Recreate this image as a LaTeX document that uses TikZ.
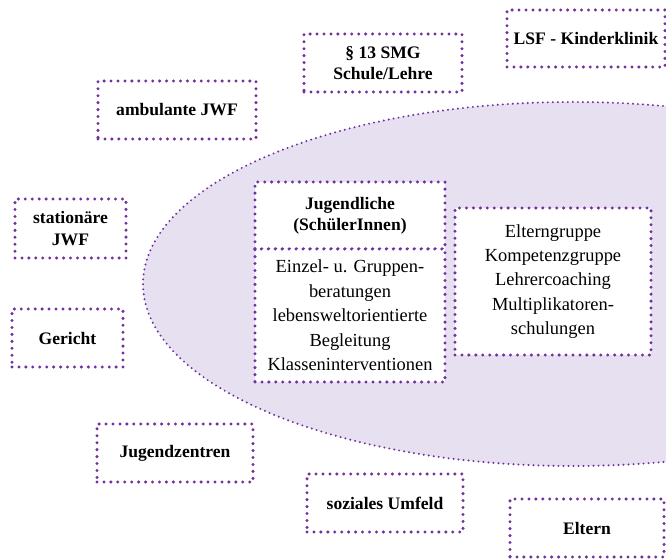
\documentclass[tikz,border=0pt]{standalone}
\usepackage{fontspec}
\setmainfont{Liberation Serif}
\usepackage{tikz}
\definecolor{lila}{RGB}{112,48,160}
\definecolor{flieder}{RGB}{230,224,240}
\tikzset{
	punkte/.style={draw=lila, line width=1.9pt, line cap=round, dash pattern=on 0pt off 3.95pt},
	partner/.style={punkte, align=center, inner sep=2pt, font=\bfseries},
	angebot/.style={punkte, fill=white, align=center, inner sep=2pt},
	kreis/.style={fill=flieder, draw=lila, line width=1.25pt, line cap=round, dash pattern=on 0pt off 2.85pt}
}

\begin{document}
\begin{tikzpicture}[font=\fontsize{10.5}{13.9}\selectfont]
			%%%%% START %%%%%
			
			\useasboundingbox (0, 0) rectangle (13.32, 11.18);
			
			\begin{scope}
				\clip (0, 0) rectangle (13.32, 11.18);
				\draw[kreis] (11.46, 5.5) ellipse [x radius=8.6, y radius=3.64];
			\end{scope}
			
			%%%%% Umfeld %%%%%
			
			\node[partner, minimum width=3.16cm, minimum height=1.14cm] (lsf) at (11.72, 10.41) {LSF - Kinderklinik};
			\node[partner, minimum width=3.16cm, minimum height=1.16cm] (smg) at (7.66, 9.92) {§ 13 SMG\\Schule/Lehre};
			\node[partner, minimum width=3.16cm, minimum height=1.16cm] (ambulant) at (3.54, 8.98) {ambulante JWF};
			\node[partner, minimum width=2.22cm, minimum height=1.18cm] (stationaer) at (1.41, 6.61) {stationäre\\JWF};
			\node[partner, minimum width=2.22cm, minimum height=1.16cm] (gericht) at (1.35, 4.42) {Gericht};
			\node[partner, minimum width=3.12cm, minimum height=1.16cm] (jugendzentren) at (3.50, 2.12) {Jugendzentren};
			\node[partner, minimum width=3.12cm, minimum height=1.16cm] (umfeld) at (7.70, 1.12) {soziales Umfeld};
			\node[partner, minimum width=3.08cm, minimum height=1.16cm] (eltern) at (11.74, 0.62) {Eltern};
			
			%%%%% Angebote %%%%%
			
			\node[angebot, font=\bfseries, minimum width=3.8cm, minimum height=1.34cm] (jugend) at (7.0, 6.87) {Jugendliche\\(SchülerInnen)};
			\node[angebot, minimum width=3.8cm, minimum height=2.66cm] (beratung) at (7.0, 4.87) {Einzel- u. Gruppen-\\beratungen\\lebensweltorientierte\\Begleitung\\Klasseninterventionen};
			\node[angebot, minimum width=3.92cm, minimum height=2.94cm] (elternarbeit) at (11.06, 5.55) {Elterngruppe\\Kompetenzgruppe\\Lehrercoaching\\Multiplikatoren-\\schulungen};
			
			%%%%% END %%%%%
\end{tikzpicture}
\end{document}
